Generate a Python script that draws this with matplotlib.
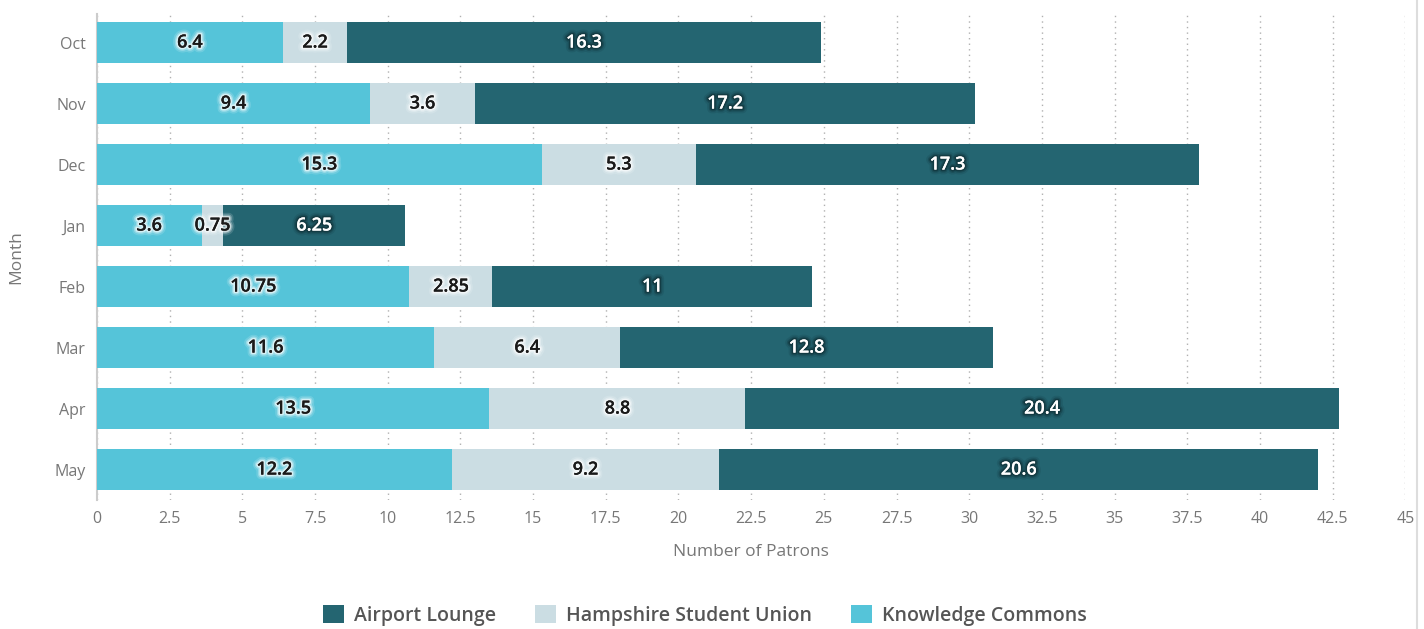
import numpy as np
import matplotlib
import matplotlib.pyplot as plt
import matplotlib.patheffects as pe
from matplotlib.lines import Line2D

months = ['Oct', 'Nov', 'Dec', 'Jan', 'Feb', 'Mar', 'Apr', 'May']
knowledge = [6.4, 9.4, 15.3, 3.6, 10.75, 11.6, 13.5, 12.2]
hampshire = [2.2, 3.6, 5.3, 0.75, 2.85, 6.4, 8.8, 9.2]
airport = [16.3, 17.2, 17.3, 6.25, 11, 12.8, 20.4, 20.6]
xticks = [0, 2.5, 5, 7.5, 10, 12.5, 15, 17.5, 20, 22.5, 25, 27.5, 30, 32.5, 35, 37.5, 40, 42.5, 45]

c_kc = '#55c4d9'
c_hsu = '#cbdde3'
c_air = '#246571'

plt.rcParams['font.family'] = ['Open Sans', 'DejaVu Sans']

fig = plt.figure(figsize=(14.24, 6.29), dpi=100)
ax = fig.add_axes([0.068, 0.205, 0.919, 0.773])

y = np.arange(len(months))
h = 0.67
b1 = ax.barh(y, knowledge, height=h, color=c_kc, label='Knowledge Commons', zorder=3)
b2 = ax.barh(y, hampshire, left=knowledge, height=h, color=c_hsu, label='Hampshire Student Union', zorder=3)
left3 = np.array(knowledge) + np.array(hampshire)
b3 = ax.barh(y, airport, left=left3, height=h, color=c_air, label='Airport Lounge', zorder=3)

def fmt(v):
    return ('%g' % v)

def glow(col):
    return [pe.withStroke(linewidth=7, foreground=col, alpha=0.15),
            pe.withStroke(linewidth=4.5, foreground=col, alpha=0.3),
            pe.withStroke(linewidth=2.5, foreground=col, alpha=0.6),
            pe.Normal()]

for bars, vals, lefts, dark in [(b1, knowledge, np.zeros(len(y)), False),
                                (b2, hampshire, np.array(knowledge), False),
                                (b3, airport, left3, True)]:
    for i, v in enumerate(vals):
        cx = lefts[i] + v / 2
        if dark:
            ax.text(cx, y[i], fmt(v), ha='center', va='center', fontsize=13,
                    fontweight='semibold', color='white', zorder=5,
                    path_effects=glow('#0f2f35'))
        else:
            ax.text(cx, y[i], fmt(v), ha='center', va='center', fontsize=13,
                    fontweight='semibold', color='#1a1a1a', zorder=5,
                    path_effects=glow('white'))

ax.set_xlim(0, 45)
ax.set_ylim(len(months) - 0.5, -0.47)
ax.set_yticks(y)
ax.set_yticklabels(months)
ax.set_xticks(xticks)
ax.set_xticklabels([fmt(t) for t in xticks])
ax.tick_params(axis='both', length=0, labelsize=11.5, labelcolor='#777777', pad=8)
ax.grid(axis='x', linestyle=(0, (1, 3)), color='#b0b0b0', linewidth=1, zorder=0)

for s in ['top', 'right', 'bottom']:
    ax.spines[s].set_visible(False)
ax.spines['left'].set_color('#cccccc')
ax.spines['left'].set_linewidth(1.5)

ax.set_xlabel('Number of Patrons', fontsize=12.5, color='#777777', labelpad=12)
ax.set_ylabel('Month', fontsize=12.5, color='#777777', labelpad=22)

handles = [b3, b2, b1]
leg = fig.legend(handles, [hh.get_label() for hh in handles], loc='center',
                 bbox_to_anchor=(0.495, 0.022), ncol=3, frameon=False,
                 fontsize=14, handlelength=1.1, handleheight=1.1, columnspacing=2.0,
                 handletextpad=0.5)
for t in leg.get_texts():
    t.set_color('#555555')
    t.set_fontweight('semibold')

fig.add_artist(Line2D([0.995, 0.995], [0, 1], transform=fig.transFigure, color='#dddddd', linewidth=1.5))

plt.savefig('out.png', dpi=100)
